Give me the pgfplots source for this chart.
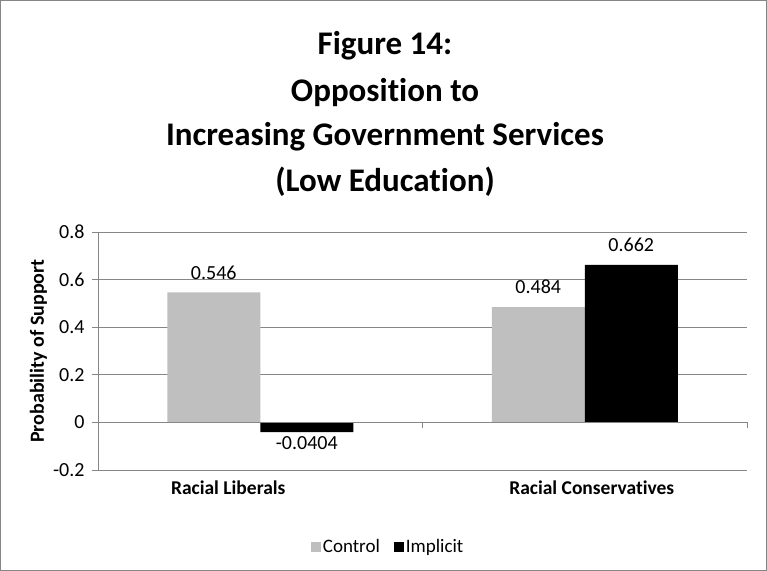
\documentclass[border=0pt]{standalone}
\usepackage{pgfplots}
\pgfplotsset{compat=1.18}
\usepackage{fontspec}
\setmainfont[Ligatures=NoCommon]{Carlito}
\definecolor{ctrl}{RGB}{191,191,191}
\definecolor{gridc}{RGB}{134,134,134}
\begin{document}
\begin{tikzpicture}
\path[use as bounding box] (0bp,0bp) rectangle (767bp,571bp);
\draw[gridc, line width=1.3bp] (0.7bp,0.7bp) rectangle (766.3bp,570.3bp);
\begin{scope}[every node/.style={anchor=base,font=\fontsize{33bp}{38bp}\selectfont\bfseries}]
\node at (385bp,516bp) {Figure 14:};
\node at (385bp,469bp) {Opposition to};
\node at (385bp,425bp) {Increasing Government Services};
\node at (385bp,379bp) {(Low Education)};
\end{scope}
\begin{axis}[
  at={(98bp,101bp)}, anchor=south west,
  width=649bp, height=238bp, scale only axis,
  xmin=-0.5, xmax=1.5, ymin=-0.2, ymax=0.8,
  ybar=0pt, bar width=93bp,
  axis lines*=left,
  x axis line style={draw=none},
  y axis line style={gridc, line width=0.8bp},
  xtick={0,1},
  xticklabels={\hspace*{-64bp}Racial Liberals, \hspace*{14bp}Racial Conservatives},
  x tick label style={font=\fontsize{19.5bp}{22bp}\selectfont\bfseries, yshift=-1bp},
  major x tick style={draw=none},
  ytick={-0.2,0,0.2,0.4,0.6,0.8},
  yticklabels={-0.2,0,0.2,0.4,0.6,0.8},
  y tick label style={font=\fontsize{20bp}{23bp}\selectfont, xshift=-4bp},
  tick align=outside,
  major tick length=6bp,
  major y tick style={gridc, line width=0.8bp},
  ymajorgrids,
  grid style={gridc, line width=0.8bp},
  ylabel={Probability of Support},
  every axis y label/.style={at={(axis description cs:-0.0917,0.5)}, rotate=90, anchor=center, font=\fontsize{20bp}{23bp}\selectfont\bfseries},
  clip=false,
  /pgf/number format/assume math mode=true,
  nodes near coords,
  nodes near coords style={font=\fontsize{20bp}{23bp}\selectfont, /pgf/number format/fixed, /pgf/number format/precision=4, inner sep=0pt, yshift=13bp},
  coordinate style/.condition={rawy<0}{yshift=-17bp},
  legend style={at={(axis description cs:0.447,-0.3235)}, anchor=center, draw=none, fill=none,
    legend columns=2, font=\fontsize{19bp}{22bp}\selectfont,
    /tikz/every even column/.append style={column sep=12bp}},
]
\addplot[fill=ctrl, draw=none, legend image code/.code={\fill[ctrl] (0bp,-5bp) rectangle (10bp,5bp);}]
  coordinates {(0,0.546) (1,0.484)};
\addlegendentry{Control}
\addplot[fill=black, draw=none, legend image code/.code={\fill[black] (0bp,-5bp) rectangle (10bp,5bp);}]
  coordinates {(0,-0.0404) (1,0.662)};
\addlegendentry{Implicit}
\draw[gridc, line width=0.8bp] (axis cs:-0.5,0) -- (axis cs:1.5,0);
\draw[gridc, line width=0.8bp] (axis cs:-0.5,0) -- ++(0bp,-6bp);
\draw[gridc, line width=0.8bp] (axis cs:0.5,0) -- ++(0bp,-6bp);
\draw[gridc, line width=0.8bp] (axis cs:1.5,0) -- ++(0bp,-6bp);
\end{axis}
\end{tikzpicture}
\end{document}
